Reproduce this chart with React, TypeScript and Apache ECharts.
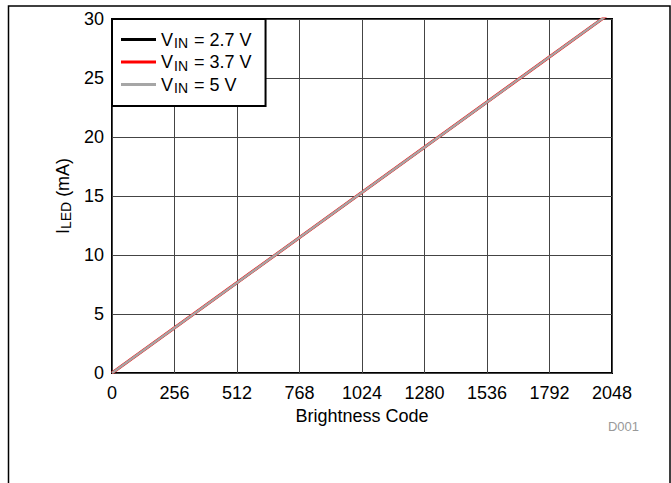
import React, { useEffect, useRef } from "react";
import * as echarts from "echarts";

const xTicks = [0, 256, 512, 768, 1024, 1280, 1536, 1792, 2048];
const seriesNames = ["VIN = 2.7 V", "VIN = 3.7 V", "VIN = 5 V"];
const seriesLabels = ["{a|V}{s|IN}{a| = 2.7 V}", "{a|V}{s|IN}{a| = 3.7 V}", "{a|V}{s|IN}{a| = 5 V}"];
const seriesColors = ["#000000", "#ff0000", "#a6a6a6"];
const seriesWidths = [2, 3, 2.4];
const codes = [0, 2047];
const current27 = [0, 30.6];
const current37 = [0, 30.6];
const current5 = [0, 30.6];
const currents = [current27, current37, current5];

const FONT = "'Liberation Sans', Arial, Helvetica, sans-serif";

export default function App() {
  const ref = useRef<HTMLDivElement>(null);
  useEffect(() => {
    if (!ref.current) return;
    const chart = echarts.init(ref.current, undefined, { renderer: "svg" });
    const labelMap: Record<string, string> = {};
    seriesNames.forEach((n, i) => (labelMap[n] = seriesLabels[i]));
    chart.setOption({
      animation: false,
      backgroundColor: "#fff",
      textStyle: { fontFamily: FONT },
      grid: {
        left: 112,
        top: 19,
        width: 500,
        height: 354,
        show: true,
        borderColor: "#000",
        borderWidth: 2,
        containLabel: false,
      },
      xAxis: {
        type: "value",
        min: xTicks[0],
        max: xTicks[xTicks.length - 1],
        interval: 256,
        name: "Brightness Code",
        nameLocation: "middle",
        nameGap: 33,
        nameTextStyle: { fontSize: 18, color: "#000", fontFamily: FONT },
        axisLine: { show: false },
        axisTick: { show: false },
        axisLabel: {
          fontSize: 18,
          color: "#000",
          margin: 11,
          fontFamily: FONT,
          formatter: (v: number) => String(v),
        },
        splitLine: { show: true, lineStyle: { color: "#444", width: 1 } },
      },
      yAxis: {
        type: "value",
        min: 0,
        max: 30,
        interval: 5,
        name: "{a|I}{s|LED}{a| (mA)}",
        nameLocation: "middle",
        nameGap: 33,
        nameRotate: 90,
        nameTextStyle: {
          fontSize: 18,
          color: "#000",
          fontFamily: FONT,
          rich: {
            a: { fontSize: 18, fontFamily: FONT, color: "#000", lineHeight: 20 },
            s: { fontSize: 14, fontFamily: FONT, color: "#000", padding: [7, 0, 0, 0], lineHeight: 14 },
          },
        },
        axisLine: { show: false },
        axisTick: { show: false },
        axisLabel: { fontSize: 18, color: "#000", margin: 8, fontFamily: FONT },
        splitLine: { show: true, lineStyle: { color: "#444", width: 1 } },
      },
      legend: {
        orient: "vertical",
        left: 112,
        top: 19,
        padding: [10, 14, 11, 9],
        itemGap: 1.5,
        itemWidth: 35,
        itemHeight: 3,
        icon: "rect",
        borderColor: "#000",
        borderWidth: 2,
        backgroundColor: "#fff",
        borderRadius: 0,
        data: seriesNames,
        formatter: (n: string) => labelMap[n] || n,
        textStyle: {
          fontSize: 18,
          color: "#000",
          fontFamily: FONT,
          rich: {
            a: { fontSize: 18, fontFamily: FONT, color: "#000", lineHeight: 20 },
            s: { fontSize: 14, fontFamily: FONT, color: "#000", padding: [7, 1, 0, 1], lineHeight: 14 },
          },
        },
      },
      graphic: [
        {
          type: "rect",
          silent: true,
          shape: { x: 8.5, y: 6, width: 661.5, height: 520 },
          style: { fill: "none", stroke: "#000", lineWidth: 1.5 },
          z: 100,
        },
        {
          type: "text",
          x: 639,
          y: 426,
          style: {
            text: "D001",
            fontSize: 13,
            fontFamily: FONT,
            fill: "#999",
            textAlign: "right",
            textVerticalAlign: "middle",
          },
        },
      ],
      series: seriesNames.map((name, i) => ({
        name,
        type: "line",
        data: codes.map((c, j) => [c, currents[i][j]]),
        showSymbol: false,
        symbol: "none",
        clip: true,
        color: seriesColors[i],
        lineStyle: { color: seriesColors[i], width: seriesWidths[i] },
        z: 2 + i,
      })),
    });
    return () => chart.dispose();
  }, []);
  return (
    <div
      ref={ref}
      style={{ position: "absolute", left: 0, top: 0, width: 671, height: 483 }}
    />
  );
}
